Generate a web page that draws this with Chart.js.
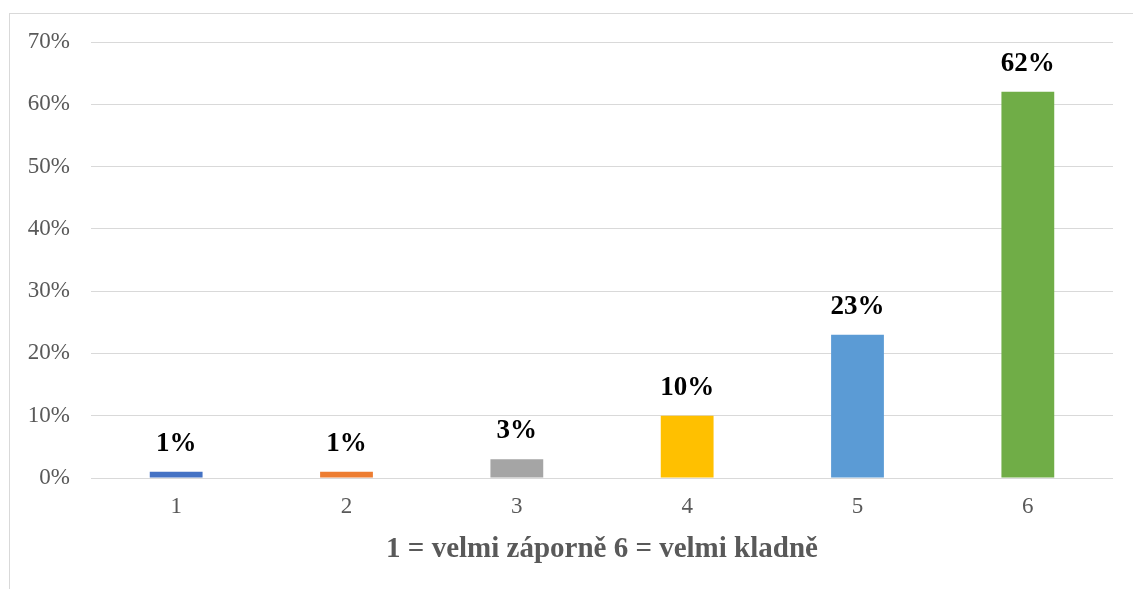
<!DOCTYPE html>
<html>
<head>
<meta charset="utf-8">
<script src="https://cdn.jsdelivr.net/npm/chart.js@4/dist/chart.umd.min.js"></script>
<style>
  html, body { margin: 0; padding: 0; background: #fff; }
  #wrap { position: relative; width: 1133px; height: 589px; overflow: hidden; }
  #frame {
    position: absolute; left: 9px; top: 13px; width: 1200px; height: 700px;
    border-left: 1px solid #d9d9d9; border-top: 1px solid #d9d9d9;
  }
  canvas { position: absolute; left: 0; top: 0; }
</style>
</head>
<body>
<div id="wrap">
  <div id="frame"></div>
  <canvas id="chart" width="1133" height="589"></canvas>
</div>
<script>
// ── Data ─────────────────────────────────────────────────────────────────────

const categories = ['1', '2', '3', '4', '5', '6'];
const shares     = [1, 1, 3, 10, 23, 62];   // percent
const barColors  = ['#4472C4', '#ED7D31', '#A5A5A5', '#FFC000', '#5B9BD5', '#70AD47'];
const axisTitle  = '1 = velmi záporně 6 = velmi kladně';

const SERIF = "'Liberation Serif', 'Times New Roman', serif";

// ── Value labels above bars ──────────────────────────────────────────────────

const valueLabels = {
  id: 'valueLabels',
  afterDatasetsDraw(chart) {
    const ctx = chart.ctx;
    const meta = chart.getDatasetMeta(0);
    ctx.save();
    ctx.font = `bold 27px ${SERIF}`;
    ctx.fillStyle = '#000';
    ctx.textAlign = 'center';
    ctx.textBaseline = 'middle';
    meta.data.forEach((bar, i) => {
      ctx.fillText(shares[i] + '%', bar.x, bar.y - 28);
    });
    ctx.restore();
  },
};

// ── Chart ────────────────────────────────────────────────────────────────────

new Chart(document.getElementById('chart').getContext('2d'), {
  type: 'bar',
  data: {
    labels: categories,
    datasets: [{
      data: shares,
      backgroundColor: barColors,
      borderWidth: 0,
      categoryPercentage: 1,
      barPercentage: 0.31,
    }],
  },
  options: {
    responsive: false,
    animation: false,
    layout: { padding: { top: 42, right: 20, left: 0, bottom: 0 } },
    plugins: { legend: { display: false }, tooltip: { enabled: false } },
    scales: {
      x: {
        grid: { display: false, drawTicks: false },
        border: { display: false },
        ticks: { color: '#595959', font: { family: SERIF, size: 23 }, padding: 15 },
        title: {
          display: true,
          text: axisTitle,
          color: '#595959',
          font: { family: SERIF, size: 29, weight: 'bold' },
          padding: { top: 0, bottom: 22 },
        },
        afterFit: s => { s.height = 111; },
      },
      y: {
        min: 0,
        max: 70,
        grid: { color: '#d9d9d9', lineWidth: 1, drawTicks: false },
        border: { display: false },
        ticks: {
          stepSize: 10,
          color: '#595959',
          font: { family: SERIF, size: 23 },
          padding: 21,
          callback: v => v + '%',
        },
        afterFit: s => { s.width = 91; },
      },
    },
  },
  plugins: [valueLabels],
});
</script>
</body>
</html>
